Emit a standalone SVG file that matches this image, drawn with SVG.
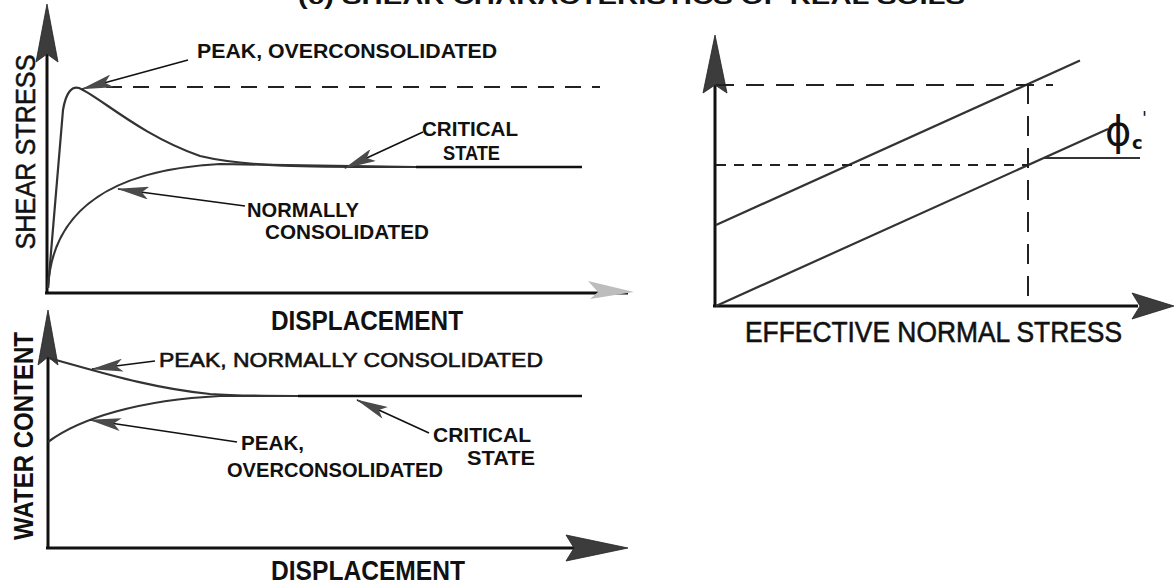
<svg xmlns="http://www.w3.org/2000/svg" width="1175" height="584" viewBox="0 0 1175 584">
<defs>
<style>
.ax{stroke:#111;stroke-width:3;fill:none}
.crv{stroke:#333;stroke-width:2.2;fill:none}
.ln{stroke:#111;stroke-width:2.6;fill:none}
.dash{stroke:#222;stroke-width:2;fill:none;stroke-dasharray:16 11}
.head{fill:#3c3c3c;stroke:#222;stroke-width:0.8}
.lead{stroke:#111;stroke-width:1.6;fill:none;marker-end:url(#ah)}
text{font-family:"Liberation Sans",Arial,sans-serif;fill:#111}
.lb{font-weight:bold;font-size:21px}
.axl{font-weight:bold;font-size:27px}
.big{font-size:30px;stroke:#111;stroke-width:0.6}
</style>
<marker id="ah" viewBox="0 0 32 13" refX="31" refY="6.5" markerWidth="32" markerHeight="13" markerUnits="userSpaceOnUse" orient="auto"><path d="M0,0 L32,6.5 L0,13 L7,6.5 Z" fill="#4a4a4a"/></marker>
</defs>

<g id="title">
<text x="298" y="4" font-size="22" font-weight="bold" textLength="667" lengthAdjust="spacingAndGlyphs">(c) SHEAR CHARACTERISTICS OF REAL SOILS</text>
</g>

<g id="shear-plot">
<path class="ax" d="M47,292 L47,50" stroke-width="4"/>
<path class="head" d="M47,4 L58,62 L47,54 L36,62 Z"/>
<path class="ax" d="M45,293 L628,293"/>
<path d="M588,281 L634,292 L590,299 L598,292 Z" fill="#bdbdbd"/>
<path class="dash" d="M106,87 L600,87"/>
<path class="crv" d="M48,288 L63,110 C66,92 72,86 79,88 C100,97 140,135 200,156 C250,168 320,167 416,167"/>
<path class="crv" d="M48,288 C52,210 110,170 220,164 L416,167"/>
<path class="ln" d="M416,167 L582,167"/>
<text class="axl" transform="translate(35,152) rotate(-90)" text-anchor="middle" font-size="25" textLength="195" lengthAdjust="spacingAndGlyphs" style="font-weight:normal;stroke:#111;stroke-width:0.5">SHEAR STRESS</text>
<text class="lb" x="197" y="58" textLength="300" lengthAdjust="spacingAndGlyphs">PEAK, OVERCONSOLIDATED</text>
<text class="lb" x="422" y="136" textLength="96" lengthAdjust="spacingAndGlyphs">CRITICAL</text>
<text class="lb" x="443" y="160" textLength="57" lengthAdjust="spacingAndGlyphs">STATE</text>
<text class="lb" x="247" y="217" textLength="112" lengthAdjust="spacingAndGlyphs">NORMALLY</text>
<text class="lb" x="265" y="239" textLength="164" lengthAdjust="spacingAndGlyphs">CONSOLIDATED</text>
<text class="axl" x="271" y="330" textLength="192" lengthAdjust="spacingAndGlyphs">DISPLACEMENT</text>
</g>

<g id="water-plot">
<path class="ax" d="M48,548 L48,355" stroke-width="3.5"/>
<path class="head" d="M48,310 L58,365 L48,357 L38,365 Z"/>
<path class="ax" d="M46,548 L575,548"/>
<path class="head" d="M628,548 L566,535 L574,548 L566,561 Z"/>
<path class="crv" d="M49,358 C100,372 150,388 210,394 C240,396 270,396 298,396"/>
<path class="crv" d="M48,442 C80,418 140,400 220,396 L298,396"/>
<path class="ln" d="M298,396 L582,396"/>
<text class="axl" transform="translate(33,436) rotate(-90)" text-anchor="middle" textLength="208" lengthAdjust="spacingAndGlyphs">WATER CONTENT</text>
<text class="lb" x="159" y="367" font-size="23" textLength="384" lengthAdjust="spacingAndGlyphs" style="font-weight:normal;stroke:#111;stroke-width:0.6">PEAK, NORMALLY CONSOLIDATED</text>
<text class="lb" x="241" y="450" textLength="63" lengthAdjust="spacingAndGlyphs">PEAK,</text>
<text class="lb" x="227" y="477" textLength="216" lengthAdjust="spacingAndGlyphs">OVERCONSOLIDATED</text>
<text class="lb" x="433" y="442" textLength="98" lengthAdjust="spacingAndGlyphs">CRITICAL</text>
<text class="lb" x="467" y="465" textLength="68" lengthAdjust="spacingAndGlyphs">STATE</text>
<text class="axl" x="271" y="580" textLength="194" lengthAdjust="spacingAndGlyphs">DISPLACEMENT</text>
</g>

<g id="envelope-plot">
<path class="ax" d="M715,306 L715,85"/>
<path class="head" d="M715,35 L727,93 L715,85 L703,93 Z"/>
<path class="ax" d="M713,306 L1138,306"/>
<path class="head" d="M1174,306 L1132,293 L1140,306 L1132,319 Z"/>
<path class="crv" d="M716,225 L1080,60.5"/>
<path class="crv" d="M716,306 L1108,129"/>
<path class="dash" d="M716,85 L1053,85" style="stroke-dasharray:18 12"/>
<path class="dash" d="M716,165 L1028,165" style="stroke-dasharray:10 8"/>
<path class="dash" d="M1028,84 L1028,304" style="stroke-dasharray:20 12"/>
<path class="crv" d="M1043,158 L1140,158"/>
<text x="1105" y="145" font-size="40" style="font-family:'DejaVu Sans',sans-serif">ϕ<tspan x="1132" y="149" font-size="18" font-weight="bold">c</tspan><tspan x="1142" y="124" font-size="18">'</tspan></text>
<text class="big" x="745" y="342" textLength="377" lengthAdjust="spacingAndGlyphs">EFFECTIVE NORMAL STRESS</text>
</g>

<g id="connectors">
<path class="lead" d="M188,60 L82,89"/>
<path class="lead" d="M423,132 L345,168"/>
<path class="lead" d="M245,206 L118,189"/>
<path class="lead" d="M155,361 L92,369"/>
<path class="lead" d="M237,442 L90,420"/>
<path class="lead" d="M429,433 L357,400"/>
</g>
</svg>
